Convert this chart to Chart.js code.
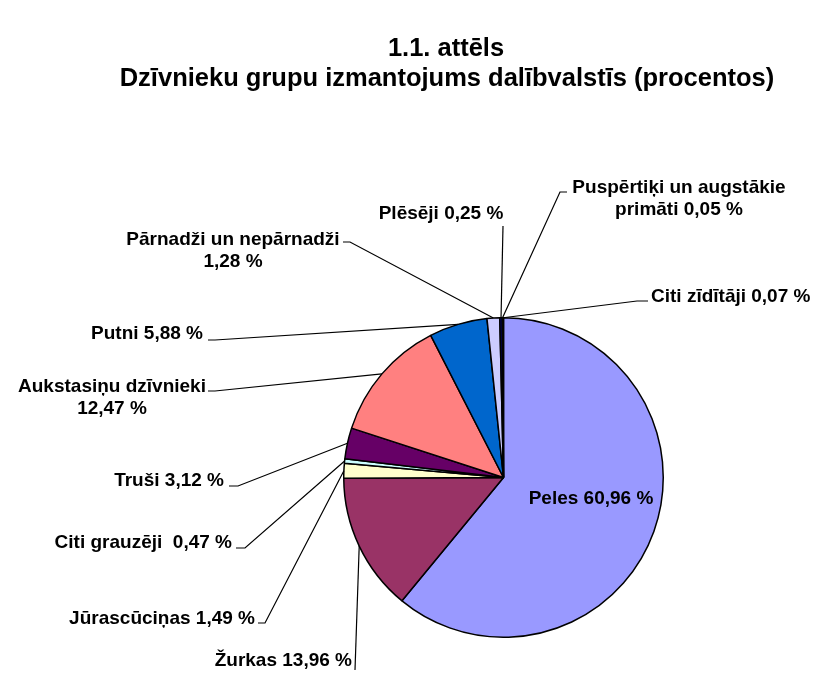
<!DOCTYPE html>
<html>
<head>
<meta charset="utf-8">
<script src="https://cdn.jsdelivr.net/npm/chart.js@4/dist/chart.umd.min.js"></script>
<style>
html,body{margin:0;padding:0;background:#fff;}
canvas{display:block;}
</style>
</head>
<body>
<canvas id="c" width="813" height="673"></canvas>
<script>
// ---- data ----
const titleLines = ['1.1. attēls', 'Dzīvnieku grupu izmantojums dalībvalstīs (procentos)'];
const categories = ['Peles', 'Žurkas', 'Jūrascūciņas', 'Citi grauzēji', 'Truši',
  'Aukstasiņu dzīvnieki', 'Putni', 'Pārnadži un nepārnadži', 'Plēsēji',
  'Puspērtiķi un augstākie primāti', 'Citi zīdītāji'];
const shares = [60.96, 13.96, 1.49, 0.47, 3.12, 12.47, 5.88, 1.28, 0.25, 0.05, 0.07];
const sliceColors = ['#9999FF', '#993366', '#FFFFCC', '#CCFFFF', '#660066', '#FF8080',
  '#0066CC', '#CCCCFF', '#000080', '#FF00FF', '#FFFF00'];

// ---- label layout (positions only) ----
// words: number of words on first line (multi-line), sep: separator before value
const labelLayout = [
  {x: 591, y: 499, align: 'center'},
  {x: 352, y: 661, align: 'right', start: [355, 670]},
  {x: 255, y: 619, align: 'right', tick: [258, 623, 265]},
  {x: 232, y: 543, align: 'right', sep: '  ', tick: [236, 548, 245]},
  {x: 224, y: 481, align: 'right', tick: [229, 486, 238]},
  {x: 112, y: 387, align: 'center', words: 2, tick: [208, 391, 215]},
  {x: 203, y: 334, align: 'right', tick: [208, 340, 215]},
  {x: 233, y: 240, align: 'center', words: 3, tick: [343, 242, 350]},
  {x: 441, y: 214, align: 'center', start: [503, 226]},
  {x: 679, y: 188, align: 'center', words: 3, tick: [567, 192, 560]},
  {x: 651, y: 297, align: 'left', tick: [648, 301, 637]}
];

function fmt(v) { return v.toFixed(2).replace('.', ',') + ' %'; }

const labelPlugin = {
  id: 'pieLabels',
  afterDraw(chart) {
    const ctx = chart.ctx;
    const meta = chart.getDatasetMeta(0);
    ctx.save();
    // title
    ctx.fillStyle = '#000';
    ctx.font = 'bold 25.5px "Liberation Sans", Arial, sans-serif';
    ctx.textAlign = 'center';
    ctx.textBaseline = 'alphabetic';
    ctx.fillText(titleLines[0], 446, 56);
    ctx.fillText(titleLines[1], 447, 86);

    ctx.font = 'bold 19px "Liberation Sans", Arial, sans-serif';
    ctx.textBaseline = 'middle';
    ctx.strokeStyle = '#000';
    ctx.lineWidth = 1.2;
    labelLayout.forEach((L, i) => {
      const full = categories[i] + (L.sep || ' ') + fmt(shares[i]);
      let lines = [full];
      if (L.words) {
        const w = full.split(' ');
        lines = [w.slice(0, L.words).join(' '), w.slice(L.words).join(' ')];
      }
      ctx.textAlign = L.align;
      lines.forEach((t, k) => ctx.fillText(t, L.x, L.y + k * 22));
      // leader line
      if (L.tick || L.start) {
        const el = meta.data[i];
        const p = el.getProps(['x', 'y', 'startAngle', 'endAngle', 'outerRadius'], true);
        const mid = (p.startAngle + p.endAngle) / 2;
        const ex = p.x + Math.cos(mid) * p.outerRadius;
        const ey = p.y + Math.sin(mid) * p.outerRadius;
        ctx.beginPath();
        if (L.tick) {
          ctx.moveTo(L.tick[0], L.tick[1]);
          ctx.lineTo(L.tick[2], L.tick[1]);
        } else {
          ctx.moveTo(L.start[0], L.start[1]);
        }
        ctx.lineTo(ex, ey);
        ctx.stroke();
      }
    });
    ctx.restore();
  }
};

new Chart(document.getElementById('c'), {
  type: 'pie',
  data: {
    labels: categories,
    datasets: [{
      data: shares,
      backgroundColor: sliceColors,
      borderColor: '#000',
      borderWidth: 1.5
    }]
  },
  options: {
    responsive: false,
    animation: false,
    layout: {padding: {top: 317, bottom: 35, left: 343, right: 149}},
    plugins: {legend: {display: false}, tooltip: {enabled: false}, title: {display: false}}
  },
  plugins: [labelPlugin]
});
</script>
</body>
</html>
